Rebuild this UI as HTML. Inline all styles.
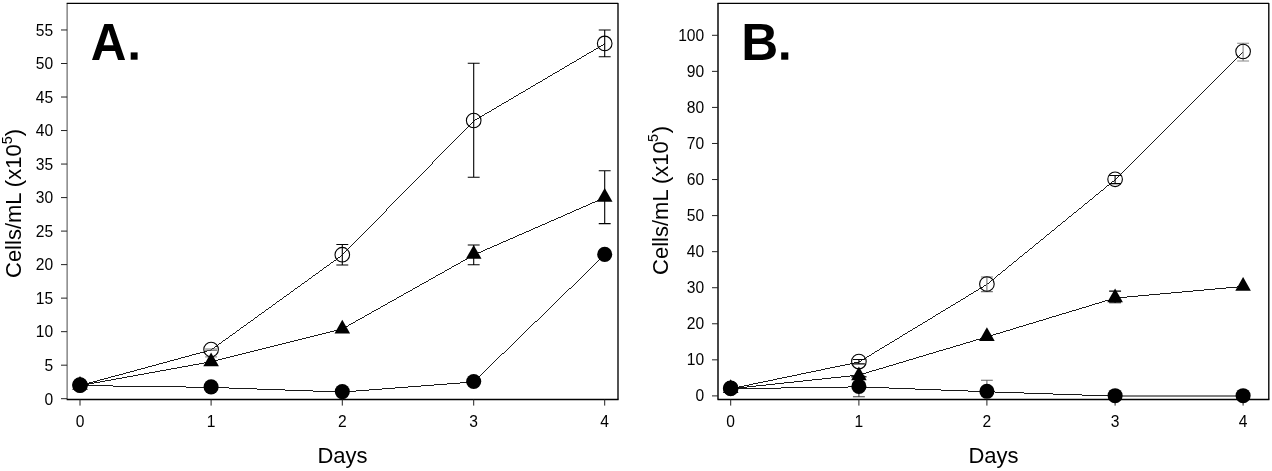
<!DOCTYPE html>
<html><head><meta charset="utf-8"><title>Growth curves</title>
<style>
html,body{margin:0;padding:0;background:#fff;}
body{width:1272px;height:471px;overflow:hidden;font-family:"Liberation Sans",sans-serif;}
svg{display:block;will-change:transform;opacity:0.999;}
text{font-family:"Liberation Sans",sans-serif;fill:#000;}
.t{font-size:15.6px;}
.l{font-size:22px;}
.p{font-size:52px;font-weight:bold;}
</style></head><body>
<svg width="1272" height="471" viewBox="0 0 1272 471">
<rect width="1272" height="471" fill="#fff"/>
<!-- Panel A -->
<path d="M67.1 3.3V399.45" stroke="#000" stroke-width="0.72" fill="none"/>
<path d="M66.69999999999999 3.3H618.0V399.45" stroke="#000" stroke-width="1.35" fill="none" stroke-linejoin="round"/>
<path d="M66.69999999999999 399.45H618.6" stroke="#000" stroke-width="1.4" fill="none"/>
<path d="M61 398.70H67.1" stroke="#222" stroke-width="1" fill="none"/>
<text class="t" x="53.2" y="404.50" text-anchor="end">0</text>
<path d="M61 365.18H67.1" stroke="#222" stroke-width="1" fill="none"/>
<text class="t" x="53.2" y="370.98" text-anchor="end">5</text>
<path d="M61 331.66H67.1" stroke="#222" stroke-width="1" fill="none"/>
<text class="t" x="53.2" y="337.46" text-anchor="end">10</text>
<path d="M61 298.14H67.1" stroke="#222" stroke-width="1" fill="none"/>
<text class="t" x="53.2" y="303.94" text-anchor="end">15</text>
<path d="M61 264.62H67.1" stroke="#222" stroke-width="1" fill="none"/>
<text class="t" x="53.2" y="270.42" text-anchor="end">20</text>
<path d="M61 231.10H67.1" stroke="#222" stroke-width="1" fill="none"/>
<text class="t" x="53.2" y="236.90" text-anchor="end">25</text>
<path d="M61 197.58H67.1" stroke="#222" stroke-width="1" fill="none"/>
<text class="t" x="53.2" y="203.38" text-anchor="end">30</text>
<path d="M61 164.06H67.1" stroke="#222" stroke-width="1" fill="none"/>
<text class="t" x="53.2" y="169.86" text-anchor="end">35</text>
<path d="M61 130.54H67.1" stroke="#222" stroke-width="1" fill="none"/>
<text class="t" x="53.2" y="136.34" text-anchor="end">40</text>
<path d="M61 97.02H67.1" stroke="#222" stroke-width="1" fill="none"/>
<text class="t" x="53.2" y="102.82" text-anchor="end">45</text>
<path d="M61 63.50H67.1" stroke="#222" stroke-width="1" fill="none"/>
<text class="t" x="53.2" y="69.30" text-anchor="end">50</text>
<path d="M61 29.98H67.1" stroke="#222" stroke-width="1" fill="none"/>
<text class="t" x="53.2" y="35.78" text-anchor="end">55</text>
<path d="M80.00 399.45V405.6" stroke="#222" stroke-width="1" fill="none"/>
<text class="t" x="80.00" y="426.5" text-anchor="middle">0</text>
<path d="M211.10 399.45V405.6" stroke="#222" stroke-width="1" fill="none"/>
<text class="t" x="211.10" y="426.5" text-anchor="middle">1</text>
<path d="M342.30 399.45V405.6" stroke="#222" stroke-width="1" fill="none"/>
<text class="t" x="342.30" y="426.5" text-anchor="middle">2</text>
<path d="M473.70 399.45V405.6" stroke="#222" stroke-width="1" fill="none"/>
<text class="t" x="473.70" y="426.5" text-anchor="middle">3</text>
<path d="M604.70 399.45V405.6" stroke="#222" stroke-width="1" fill="none"/>
<text class="t" x="604.70" y="426.5" text-anchor="middle">4</text>
<text class="l" x="342.5" y="462.8" text-anchor="middle">Days</text>
<text class="l" transform="translate(21.3,278.0) rotate(-90)">Cells/mL (x10<tspan font-size="14.5" dy="-9">5</tspan><tspan dy="9">)</tspan></text>
<text class="p" transform="translate(90.7,59.7) scale(0.95,1)">A</text><rect x="130.7" y="52.4" width="6.9" height="7.3" fill="#000"/>
<polyline points="80.00,385.10 211.10,349.50 342.30,254.70 473.70,120.50 604.70,43.40" fill="none" stroke="#000" stroke-width="0.9" shape-rendering="crispEdges" transform="translate(0,0.45)"/>
<polyline points="80.00,385.10 211.10,361.30 342.30,328.50 473.70,254.60 604.70,197.20" fill="none" stroke="#000" stroke-width="0.9" shape-rendering="crispEdges" transform="translate(0,0.45)"/>
<polyline points="80.00,385.10 211.10,386.90 342.30,391.60 473.70,381.50 604.70,254.40" fill="none" stroke="#000" stroke-width="0.9" shape-rendering="crispEdges" transform="translate(0,0.45)"/>
<path d="M211.10 349.00V350.40M205.15 349.00H217.05M205.15 350.40H217.05" stroke="#555" stroke-width="0.8" fill="none"/>
<path d="M342.30 244.50V265.00M336.35 244.50H348.25M336.35 265.00H348.25" stroke="#000" stroke-width="1.1" fill="none"/>
<path d="M473.70 63.30V177.30M467.75 63.30H479.65M467.75 177.30H479.65" stroke="#000" stroke-width="1.1" fill="none"/>
<path d="M604.70 30.00V56.80M598.75 30.00H610.65M598.75 56.80H610.65" stroke="#000" stroke-width="1.1" fill="none"/>
<path d="M211.10 356.90V364.00M205.15 356.90H217.05M205.15 364.00H217.05" stroke="#666" stroke-width="0.9" fill="none"/>
<path d="M473.70 245.00V264.70M467.75 245.00H479.65M467.75 264.70H479.65" stroke="#000" stroke-width="1.1" fill="none"/>
<path d="M604.70 170.80V223.60M598.75 170.80H610.65M598.75 223.60H610.65" stroke="#000" stroke-width="1.1" fill="none"/>
<circle cx="80.00" cy="385.10" r="7.3" fill="none" stroke="#000" stroke-width="1.1"/>
<circle cx="211.10" cy="349.50" r="7.3" fill="none" stroke="#000" stroke-width="1.1"/>
<circle cx="342.30" cy="254.70" r="7.3" fill="none" stroke="#000" stroke-width="1.1"/>
<circle cx="473.70" cy="120.50" r="7.3" fill="none" stroke="#000" stroke-width="1.1"/>
<circle cx="604.70" cy="43.40" r="7.3" fill="none" stroke="#000" stroke-width="1.1"/>
<path d="M72.20 389.75L80.00 376.00L87.80 389.75Z" fill="#000"/>
<path d="M203.30 366.15L211.10 352.40L218.90 366.15Z" fill="#000"/>
<path d="M334.50 333.45L342.30 319.70L350.10 333.45Z" fill="#000"/>
<path d="M465.90 258.75L473.70 245.00L481.50 258.75Z" fill="#000"/>
<path d="M596.90 201.65L604.70 187.90L612.50 201.65Z" fill="#000"/>
<circle cx="80.00" cy="385.10" r="7.55" fill="#000"/>
<circle cx="211.10" cy="386.90" r="7.55" fill="#000"/>
<circle cx="342.30" cy="391.60" r="7.55" fill="#000"/>
<circle cx="473.70" cy="381.50" r="7.55" fill="#000"/>
<circle cx="604.70" cy="254.40" r="7.55" fill="#000"/>
<!-- Panel B -->
<path d="M718.0 3.3V399.45" stroke="#000" stroke-width="1.45" fill="none"/>
<path d="M717.5 3.3H1268.8V399.45" stroke="#000" stroke-width="1.35" fill="none" stroke-linejoin="round"/>
<path d="M717.5 399.45H1269.3999999999999" stroke="#000" stroke-width="1.4" fill="none"/>
<path d="M712 395.90H718.0" stroke="#222" stroke-width="1" fill="none"/>
<text class="t" x="704.2" y="401.30" text-anchor="end">0</text>
<path d="M712 359.84H718.0" stroke="#222" stroke-width="1" fill="none"/>
<text class="t" x="704.2" y="365.24" text-anchor="end">10</text>
<path d="M712 323.78H718.0" stroke="#222" stroke-width="1" fill="none"/>
<text class="t" x="704.2" y="329.18" text-anchor="end">20</text>
<path d="M712 287.72H718.0" stroke="#222" stroke-width="1" fill="none"/>
<text class="t" x="704.2" y="293.12" text-anchor="end">30</text>
<path d="M712 251.66H718.0" stroke="#222" stroke-width="1" fill="none"/>
<text class="t" x="704.2" y="257.06" text-anchor="end">40</text>
<path d="M712 215.60H718.0" stroke="#222" stroke-width="1" fill="none"/>
<text class="t" x="704.2" y="221.00" text-anchor="end">50</text>
<path d="M712 179.54H718.0" stroke="#222" stroke-width="1" fill="none"/>
<text class="t" x="704.2" y="184.94" text-anchor="end">60</text>
<path d="M712 143.48H718.0" stroke="#222" stroke-width="1" fill="none"/>
<text class="t" x="704.2" y="148.88" text-anchor="end">70</text>
<path d="M712 107.42H718.0" stroke="#222" stroke-width="1" fill="none"/>
<text class="t" x="704.2" y="112.82" text-anchor="end">80</text>
<path d="M712 71.36H718.0" stroke="#222" stroke-width="1" fill="none"/>
<text class="t" x="704.2" y="76.76" text-anchor="end">90</text>
<path d="M712 35.30H718.0" stroke="#222" stroke-width="1" fill="none"/>
<text class="t" x="704.2" y="40.70" text-anchor="end">100</text>
<path d="M730.70 399.45V405.6" stroke="#222" stroke-width="1" fill="none"/>
<text class="t" x="730.70" y="426.5" text-anchor="middle">0</text>
<path d="M858.90 399.45V405.6" stroke="#222" stroke-width="1" fill="none"/>
<text class="t" x="858.90" y="426.5" text-anchor="middle">1</text>
<path d="M986.90 399.45V405.6" stroke="#222" stroke-width="1" fill="none"/>
<text class="t" x="986.90" y="426.5" text-anchor="middle">2</text>
<path d="M1115.10 399.45V405.6" stroke="#222" stroke-width="1" fill="none"/>
<text class="t" x="1115.10" y="426.5" text-anchor="middle">3</text>
<path d="M1243.10 399.45V405.6" stroke="#222" stroke-width="1" fill="none"/>
<text class="t" x="1243.10" y="426.5" text-anchor="middle">4</text>
<text class="l" x="993.5" y="462.8" text-anchor="middle">Days</text>
<text class="l" transform="translate(668.2,274.9) rotate(-90)">Cells/mL (x10<tspan font-size="14.5" dy="-10.6" dx="-0.8">5</tspan><tspan dy="10.6" dx="0.8">)</tspan></text>
<text class="p" transform="translate(741.2,59.7) scale(0.985,1)">B</text><rect x="781.2" y="52.4" width="7.1" height="7.3" fill="#000"/>
<polyline points="730.70,388.30 858.90,361.60 986.90,284.00 1115.10,179.30 1243.10,51.50" fill="none" stroke="#000" stroke-width="0.9" shape-rendering="crispEdges" transform="translate(0,0.45)"/>
<polyline points="730.70,388.30 858.90,374.60 986.90,336.40 1115.10,297.60 1243.10,286.00" fill="none" stroke="#000" stroke-width="0.9" shape-rendering="crispEdges" transform="translate(0,0.45)"/>
<polyline points="730.70,388.30 858.90,386.40 986.90,391.30 1115.10,395.70" fill="none" stroke="#000" stroke-width="0.9" shape-rendering="crispEdges" transform="translate(0,0.45)"/>
<path d="M1115.10 396H1243.10" stroke="#000" stroke-width="1" fill="none"/>
<path d="M858.90 359.50V363.90M852.95 359.50H864.85M852.95 363.90H864.85" stroke="#000" stroke-width="1.1" fill="none"/>
<path d="M986.90 277.00V291.60M980.95 277.00H992.85M980.95 291.60H992.85" stroke="#777" stroke-width="1.1" fill="none"/>
<path d="M1115.10 175.50V183.60M1109.15 175.50H1121.05M1109.15 183.60H1121.05" stroke="#000" stroke-width="1.1" fill="none"/>
<path d="M1243.10 43.20V61.00M1237.15 43.20H1249.05M1237.15 61.00H1249.05" stroke="#888" stroke-width="1.1" fill="none"/>
<path d="M858.90 376.00V396.80M852.95 376.00H864.85M852.95 396.80H864.85" stroke="#444" stroke-width="1.1" fill="none"/>
<path d="M1115.10 291.10V302.70M1109.15 291.10H1121.05M1109.15 302.70H1121.05" stroke="#000" stroke-width="1.1" fill="none"/>
<path d="M986.90 380.3V391M981.00 380.3H992.80" stroke="#666" stroke-width="1.1" fill="none"/>
<circle cx="730.70" cy="388.30" r="7.3" fill="none" stroke="#000" stroke-width="1.1"/>
<circle cx="858.90" cy="361.60" r="7.3" fill="none" stroke="#000" stroke-width="1.1"/>
<circle cx="986.90" cy="284.00" r="7.3" fill="none" stroke="#000" stroke-width="1.1"/>
<circle cx="1115.10" cy="179.30" r="7.3" fill="none" stroke="#000" stroke-width="1.1"/>
<circle cx="1243.10" cy="51.50" r="7.3" fill="none" stroke="#000" stroke-width="1.1"/>
<path d="M722.90 392.95L730.70 379.20L738.50 392.95Z" fill="#000"/>
<path d="M851.10 380.15L858.90 366.40L866.70 380.15Z" fill="#000"/>
<path d="M979.10 341.05L986.90 327.30L994.70 341.05Z" fill="#000"/>
<path d="M1107.30 302.35L1115.10 288.60L1122.90 302.35Z" fill="#000"/>
<path d="M1235.30 290.65L1243.10 276.90L1250.90 290.65Z" fill="#000"/>
<path d="M851.30 376.8H866.50" stroke="#000" stroke-width="1.3" fill="none"/>
<circle cx="730.70" cy="388.30" r="7.55" fill="#000"/>
<circle cx="858.90" cy="386.40" r="7.55" fill="#000"/>
<circle cx="986.90" cy="391.30" r="7.55" fill="#000"/>
<circle cx="1115.10" cy="395.70" r="7.55" fill="#000"/>
<circle cx="1243.10" cy="395.70" r="7.55" fill="#000"/>
</svg></body></html>
